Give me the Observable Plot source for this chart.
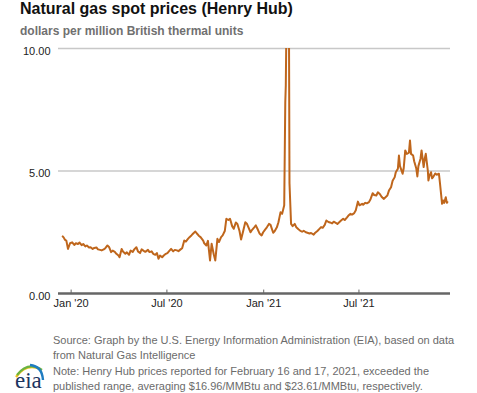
<!DOCTYPE html>
<html>
<head>
<meta charset="utf-8">
<script src="https://cdn.jsdelivr.net/npm/d3@7"></script>
<script src="https://cdn.jsdelivr.net/npm/@observablehq/plot@0.6"></script>
<style>
  html, body { margin: 0; padding: 0; background: #fff; }
  body { width: 477px; height: 393px; position: relative; overflow: hidden; font-family: Arial, "Liberation Sans", sans-serif; }
  #title { position: absolute; left: 20px; top: 0px; font-size: 16px; font-weight: bold; line-height: 18px; color: #111; white-space: nowrap; }
  #subtitle { position: absolute; left: 20px; top: 23px; font-size: 12px; font-weight: bold; line-height: 16px; color: #707070; white-space: nowrap; }
  #chart { position: absolute; left: 0; top: 40px; }
  #footer { position: absolute; left: 53px; top: 333px; font-size: 11px; line-height: 15.3px; color: #6b6b6b; }
  #logo { position: absolute; left: 0; top: 355px; }
</style>
</head>
<body>
<div id="title">Natural gas spot prices (Henry Hub)</div>
<div id="subtitle">dollars per million British thermal units</div>
<div id="chart"></div>
<div id="footer">Source: Graph by the U.S. Energy Information Administration (EIA), based on data<br>from Natural Gas Intelligence<br>Note: Henry Hub prices reported for February 16 and 17, 2021, exceeded the<br>published range, averaging $16.96/MMBtu and $23.61/MMBtu, respectively.</div>
<svg id="logo" width="50" height="38" viewBox="0 0 50 38">
  <path d="M16,22 Q26,8 40,14" fill="none" stroke="#f2c318" stroke-width="2.2"/>
  <path d="M17,20 Q28,6 42,15" fill="none" stroke="#6cb33f" stroke-width="2.2"/>
  <path d="M30,10 Q42,11 43,25" fill="none" stroke="#1f7cc1" stroke-width="2.4"/>
  <text x="15" y="33" font-family="'Liberation Serif', 'Times New Roman', serif" font-size="23" fill="#1c3560">eia</text>
</svg>
<script>
const dates = [
"2019-12-16","2019-12-18","2019-12-20","2019-12-23","2019-12-26","2019-12-30",
"2020-01-03","2020-01-07","2020-01-10","2020-01-14","2020-01-17","2020-01-21","2020-01-24","2020-01-28","2020-01-31",
"2020-02-04","2020-02-07","2020-02-11","2020-02-14","2020-02-18","2020-02-21","2020-02-25","2020-02-28",
"2020-03-03","2020-03-06","2020-03-10","2020-03-13","2020-03-17","2020-03-20","2020-03-24","2020-03-27","2020-03-31",
"2020-04-02","2020-04-06","2020-04-09","2020-04-13","2020-04-16","2020-04-20","2020-04-23","2020-04-27","2020-04-30",
"2020-05-04","2020-05-07","2020-05-11","2020-05-14","2020-05-18","2020-05-21","2020-05-26","2020-05-29",
"2020-06-02","2020-06-05","2020-06-09","2020-06-12","2020-06-15","2020-06-18","2020-06-22","2020-06-25","2020-06-29",
"2020-07-02","2020-07-06","2020-07-09","2020-07-13","2020-07-16","2020-07-20","2020-07-23","2020-07-27","2020-07-30",
"2020-08-03","2020-08-06","2020-08-10","2020-08-13","2020-08-17","2020-08-20","2020-08-24","2020-08-27","2020-08-31",
"2020-09-03","2020-09-08","2020-09-10","2020-09-14","2020-09-17","2020-09-21","2020-09-24","2020-09-28",
"2020-10-01","2020-10-05","2020-10-08","2020-10-12","2020-10-15","2020-10-19","2020-10-22","2020-10-26","2020-10-29",
"2020-11-02","2020-11-05","2020-11-09","2020-11-12","2020-11-16","2020-11-19","2020-11-23","2020-11-27","2020-11-30",
"2020-12-03","2020-12-07","2020-12-10","2020-12-14","2020-12-17","2020-12-21","2020-12-24","2020-12-28","2020-12-31",
"2021-01-04","2021-01-07","2021-01-11","2021-01-14","2021-01-19","2021-01-22","2021-01-26","2021-01-29",
"2021-02-02","2021-02-05","2021-02-09","2021-02-11","2021-02-12","2021-02-16","2021-02-17","2021-02-18","2021-02-19","2021-02-22","2021-02-25",
"2021-03-01","2021-03-04","2021-03-08","2021-03-11","2021-03-15","2021-03-18","2021-03-22","2021-03-25","2021-03-29",
"2021-04-01","2021-04-06","2021-04-09","2021-04-13","2021-04-16","2021-04-20","2021-04-23","2021-04-27","2021-04-30",
"2021-05-04","2021-05-07","2021-05-11","2021-05-14","2021-05-18","2021-05-21","2021-05-25","2021-05-28",
"2021-06-01","2021-06-04","2021-06-08","2021-06-11","2021-06-15","2021-06-18","2021-06-22","2021-06-25","2021-06-29",
"2021-07-02","2021-07-07","2021-07-09","2021-07-13","2021-07-16","2021-07-20","2021-07-23","2021-07-27","2021-07-30",
"2021-08-03","2021-08-06","2021-08-10","2021-08-13","2021-08-17","2021-08-20","2021-08-24","2021-08-27","2021-08-31",
"2021-09-03","2021-09-07","2021-09-09","2021-09-13","2021-09-15","2021-09-17","2021-09-22","2021-09-24","2021-09-27","2021-09-30",
"2021-10-04","2021-10-06","2021-10-08","2021-10-12","2021-10-14","2021-10-18","2021-10-20","2021-10-22","2021-10-26","2021-10-28",
"2021-11-01","2021-11-03","2021-11-05","2021-11-09","2021-11-10","2021-11-12","2021-11-15","2021-11-17","2021-11-19","2021-11-23","2021-11-26","2021-11-30",
"2021-12-02","2021-12-06","2021-12-08","2021-12-10","2021-12-13","2021-12-15","2021-12-16"
];
const prices = [
2.33,2.28,2.20,2.15,1.82,2.05,
2.09,1.98,2.05,2.02,2.08,1.97,2.02,1.92,1.96,
1.88,1.89,1.82,1.86,1.88,1.80,1.78,1.76,
1.80,1.85,1.96,1.90,1.69,1.75,1.70,1.62,1.55,
1.48,1.82,1.70,1.62,1.68,1.58,1.75,1.70,1.80,
1.89,1.72,1.65,1.80,1.74,1.70,1.78,1.69,
1.72,1.62,1.58,1.65,1.42,1.55,1.48,1.55,1.62,
1.65,1.75,1.82,1.72,1.78,1.76,1.73,1.80,1.85,
2.16,2.12,2.23,2.30,2.38,2.45,2.53,2.45,2.35,
2.30,2.16,2.05,1.96,2.15,1.35,2.03,1.60,
1.35,2.23,2.10,2.30,2.37,2.55,3.05,3.00,3.05,
2.75,2.64,2.90,2.84,2.55,2.20,2.55,2.91,2.85,
2.70,2.50,2.60,2.70,2.78,2.60,2.45,2.37,2.50,
2.62,2.70,2.84,2.80,2.48,2.55,2.70,2.91,
3.32,3.25,3.60,7.80,8.50,16.96,23.61,11.00,4.50,2.84,2.75,
2.84,2.70,2.62,2.57,2.52,2.56,2.50,2.48,2.45,
2.47,2.40,2.48,2.55,2.62,2.71,2.68,2.80,2.98,
2.92,2.90,2.86,2.93,2.88,2.84,2.92,2.98,
3.05,3.00,3.10,3.18,3.25,3.22,3.28,3.40,3.75,
3.60,3.66,3.62,3.70,3.68,3.73,3.85,4.09,4.02,
4.00,4.13,4.05,3.95,3.86,3.92,4.00,4.20,4.34,
4.60,4.75,4.95,5.09,5.63,5.20,4.89,5.10,5.84,5.70,
5.75,6.24,5.70,5.63,5.40,5.10,4.78,5.20,5.50,5.84,
5.16,5.50,5.70,5.00,4.61,4.80,4.95,4.70,4.75,4.90,4.85,4.89,
4.50,3.66,3.80,3.70,3.93,3.70,3.73
];
const yTicks = [0, 5, 10];
const xTickDates = ["2020-01-01", "2020-07-01", "2021-01-01", "2021-07-01"];
const xDomain = ["2019-12-08", "2021-12-22"];

const data = dates.map((d, i) => ({date: new Date(d + "T00:00:00Z"), price: prices[i]}));
const xTicks = xTickDates.map(d => new Date(d + "T00:00:00Z"));
const fmtX = d3.utcFormat("%b '%y");

const chart = Plot.plot({
  width: 477,
  height: 278,
  marginLeft: 58,
  marginRight: 27,
  marginTop: 8,
  marginBottom: 25,
  style: {fontFamily: "Arial, 'Liberation Sans', sans-serif", fontSize: "11px", color: "#333", background: "#fff"},
  x: {type: "utc", domain: xDomain.map(d => new Date(d + "T00:00:00Z"))},
  y: {domain: [0, 10]},
  marks: [
    Plot.ruleY(yTicks.filter(v => v > 0), {stroke: "#c8c8c8", strokeWidth: 1.6}),
    Plot.lineY(data, {x: "date", y: "price", stroke: "#bf661c", strokeWidth: 2, clip: true}),
    Plot.ruleY([0], {stroke: "#666", strokeWidth: 2.4}),
    Plot.ruleX(xTicks, {y1: 0, y2: 0.14, stroke: "#666", strokeWidth: 1}),
    Plot.axisY(yTicks, {tickSize: 0, tickPadding: 8, tickFormat: d3.format(".2f"), dy: 2.5, fill: "#222", label: null}),
    Plot.axisX(xTicks, {tickSize: 0, tickPadding: 6, tickFormat: fmtX, fill: "#222", label: null})
  ]
});
document.getElementById("chart").appendChild(chart);
</script>
</body>
</html>
